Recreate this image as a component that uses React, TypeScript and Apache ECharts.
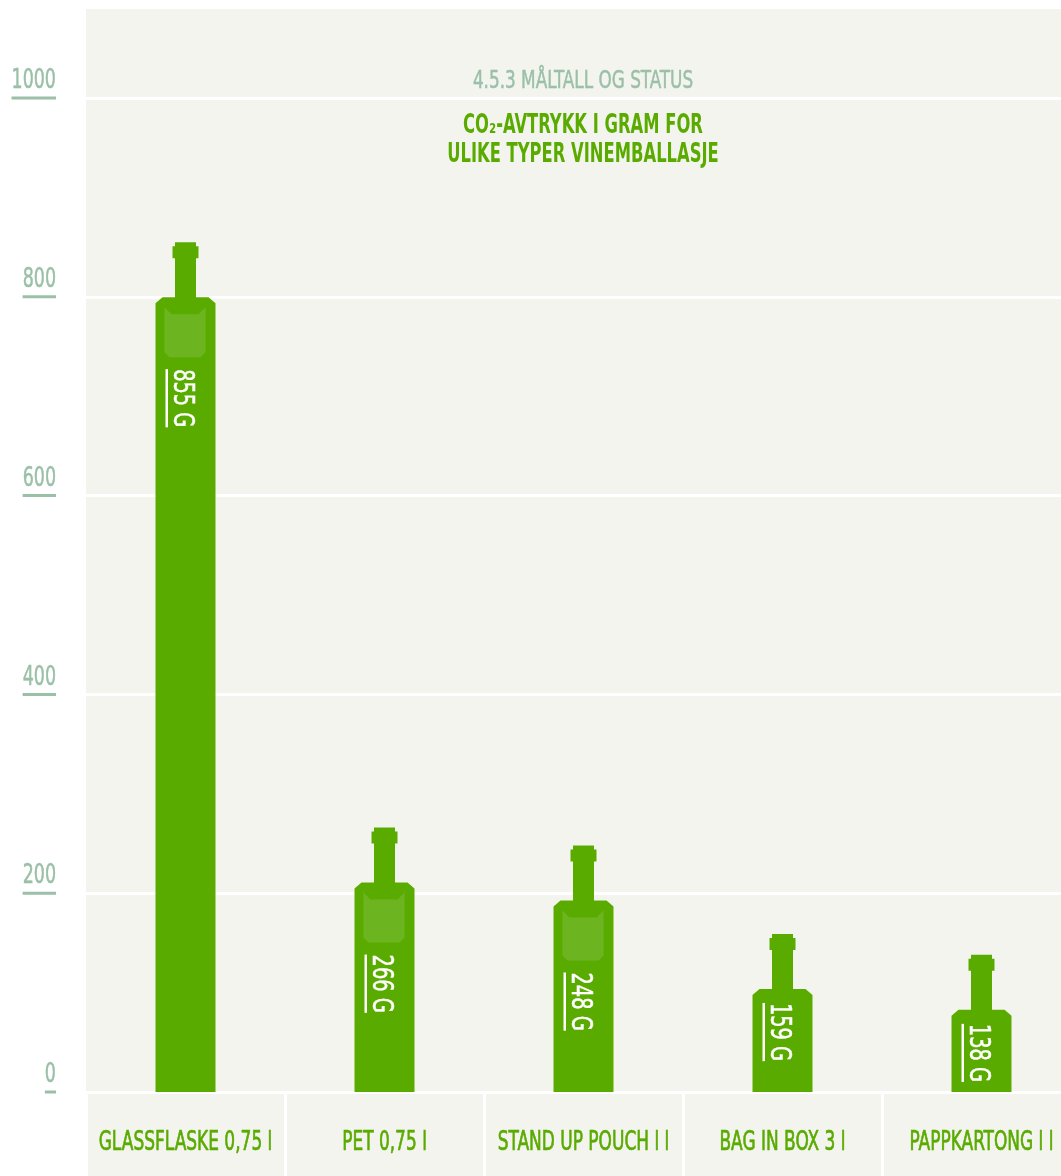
import React, { useEffect, useRef } from "react";
import * as echarts from "echarts";

const categories = ["GLASSFLASKE 0,75 l", "PET 0,75 l", "STAND UP POUCH l l", "BAG IN BOX 3 l", "PAPPKARTONG l l"];
const values = [855, 266, 248, 159, 138];
const hasPatch = [true, true, true, false, false];
const yTicks = [0, 200, 400, 600, 800, 1000];
const titleText = "4.5.3 MÅLTALL OG STATUS";
const subtitleLines = ["CO₂-AVTRYKK I GRAM FOR", "ULIKE TYPER VINEMBALLASJE"];

const FONT = '"Liberation Sans Narrow", "DejaVu Sans Condensed", "Roboto Condensed", sans-serif';
const GREEN = "#5aab00";
const PATCH = "#6cb520";
const GREY = "#9bc0a8";
const BG = "#f4f4ee";
const SX = 0.72;

let measureCtx: CanvasRenderingContext2D | null = null;
function measure(text: string, size: number, weight = "normal") {
  if (!measureCtx) measureCtx = document.createElement("canvas").getContext("2d");
  if (!measureCtx) return text.length * size * 0.55;
  measureCtx.font = `${weight} ${size}px ${FONT}`;
  return measureCtx.measureText(text).width;
}

export default function App() {
  const ref = useRef<HTMLDivElement>(null);
  useEffect(() => {
    if (!ref.current) return;
    const chart = echarts.init(ref.current, undefined, { renderer: "svg" });
    const valueFont = 28;
    const labelFont = 27;
    chart.setOption({
      animation: false,
      graphic: [
        { type: "rect", z: -100, silent: true, shape: { x: 86, y: 9, width: 975, height: 1167 }, style: { fill: BG } },
        {
          type: "text",
          x: 583,
          y: 79,
          scaleX: 0.75,
          style: {
            text: titleText,
            fill: GREY,
            stroke: GREY,
            lineWidth: 0.5,
            fontSize: 25,
            fontFamily: FONT,
            align: "center",
            verticalAlign: "middle",
          },
        },
        ...subtitleLines.map((t, i) => ({
          type: "text",
          x: 583,
          y: 124 + i * 29,
          scaleX: 0.7,
          style: {
            text: t,
            fill: GREEN,
            fontSize: 26,
            fontWeight: "bold",
            fontFamily: FONT,
            align: "center",
            verticalAlign: "middle",
          },
        })),
      ],
      grid: { left: 86, right: -20, top: 98, bottom: 84, containLabel: false, outerBoundsMode: "none" },
      xAxis: {
        type: "category",
        data: categories,
        axisLine: { show: true, lineStyle: { color: "#ffffff", width: 3 } },
        axisTick: { show: true, length: 84, interval: 0, lineStyle: { color: "#ffffff", width: 3 } },
        axisLabel: { show: false },
        splitLine: { show: false },
      },
      yAxis: {
        type: "value",
        min: 0,
        max: 1000,
        interval: 200,
        axisLine: { show: false },
        axisTick: { show: false },
        splitLine: { show: true, lineStyle: { color: "#ffffff", width: 3 } },
        axisLabel: { show: false },
      },
      series: [
        {
          type: "custom",
          name: "bottles",
          data: values.map((v, i) => [i, v]),
          renderItem: (params: any, api: any) => {
            const idx = api.value(0);
            const v = api.value(1);
            const top = api.coord([idx, v]);
            const base = api.coord([idx, 0]);
            const cx = top[0];
            const ty = top[1];
            const by = base[1];
            const bt = ty + 55;
            const bottle = [
              [cx - 10.5, ty],
              [cx + 10.5, ty],
              [cx + 10.5, ty + 4],
              [cx + 13, ty + 4],
              [cx + 13, ty + 16],
              [cx + 10.5, ty + 16],
              [cx + 10.5, bt],
              [cx + 23, bt],
              [cx + 30, bt + 6],
              [cx + 30, by],
              [cx - 30, by],
              [cx - 30, bt + 6],
              [cx - 23, bt],
              [cx - 10.5, bt],
              [cx - 10.5, ty + 16],
              [cx - 13, ty + 16],
              [cx - 13, ty + 4],
              [cx - 10.5, ty + 4],
            ];
            const children: any[] = [{ type: "polygon", shape: { points: bottle }, style: { fill: GREEN } }];
            const patch = hasPatch[idx];
            if (patch) {
              children.push({
                type: "polygon",
                shape: {
                  points: [
                    [cx - 21, bt + 10],
                    [cx - 14, bt + 17],
                    [cx + 13, bt + 17],
                    [cx + 20, bt + 10],
                    [cx + 20, bt + 55],
                    [cx + 15, bt + 60],
                    [cx - 16, bt + 60],
                    [cx - 21, bt + 55],
                  ],
                },
                style: { fill: PATCH },
              });
            }
            const label = `${v} G`;
            const ts = patch ? bt + 72 : bt + 14;
            const vsx = 0.77;
            const tw = measure(label, valueFont) * vsx;
            children.push({
              type: "text",
              x: cx - 2,
              y: ts,
              rotation: -Math.PI / 2,
              scaleX: vsx,
              style: {
                text: label,
                fill: "#ffffff",
                stroke: "#ffffff",
                lineWidth: 0.5,
                fontSize: valueFont,
                fontFamily: FONT,
                align: "left",
                verticalAlign: "middle",
              },
            });
            children.push({
              type: "rect",
              shape: { x: cx - 20, y: ts, width: 2.5, height: tw },
              style: { fill: "#ffffff" },
            });
            return { type: "group", children };
          },
        },
        {
          type: "custom",
          name: "yLabels",
          silent: true,
          data: yTicks.map((t) => [0, t]),
          renderItem: (params: any, api: any) => {
            const t = api.value(1);
            const p = api.coord([0, t]);
            const band = api.size([1, 0])[0];
            const right = p[0] - band / 2 - 30;
            const w = measure(String(t), labelFont) * SX;
            return {
              type: "group",
              children: [
                {
                  type: "text",
                  x: right,
                  y: p[1] - 19,
                  scaleX: SX,
                  style: {
                    text: String(t),
                    fill: GREY,
                    stroke: GREY,
                    lineWidth: 0.5,
                    fontSize: labelFont,
                    fontFamily: FONT,
                    align: "right",
                    verticalAlign: "middle",
                  },
                },
                { type: "rect", shape: { x: right - w, y: p[1] - 1.5, width: w, height: 3 }, style: { fill: GREY } },
              ],
            };
          },
        },
        {
          type: "custom",
          name: "xLabels",
          silent: true,
          data: categories.map((c, i) => [i, 0]),
          renderItem: (params: any, api: any) => {
            const i = api.value(0);
            const p = api.coord([i, 0]);
            return {
              type: "text",
              x: p[0],
              y: p[1] + 48,
              scaleX: 0.7,
              style: {
                text: categories[i],
                fill: GREEN,
                stroke: GREEN,
                lineWidth: 0.7,
                fontSize: labelFont,
                fontFamily: FONT,
                align: "center",
                verticalAlign: "middle",
              },
            };
          },
        },
      ],
    });
    return () => chart.dispose();
  }, []);
  return <div ref={ref} style={{ position: "fixed", left: 0, top: 0, width: 1061, height: 1176 }} />;
}
